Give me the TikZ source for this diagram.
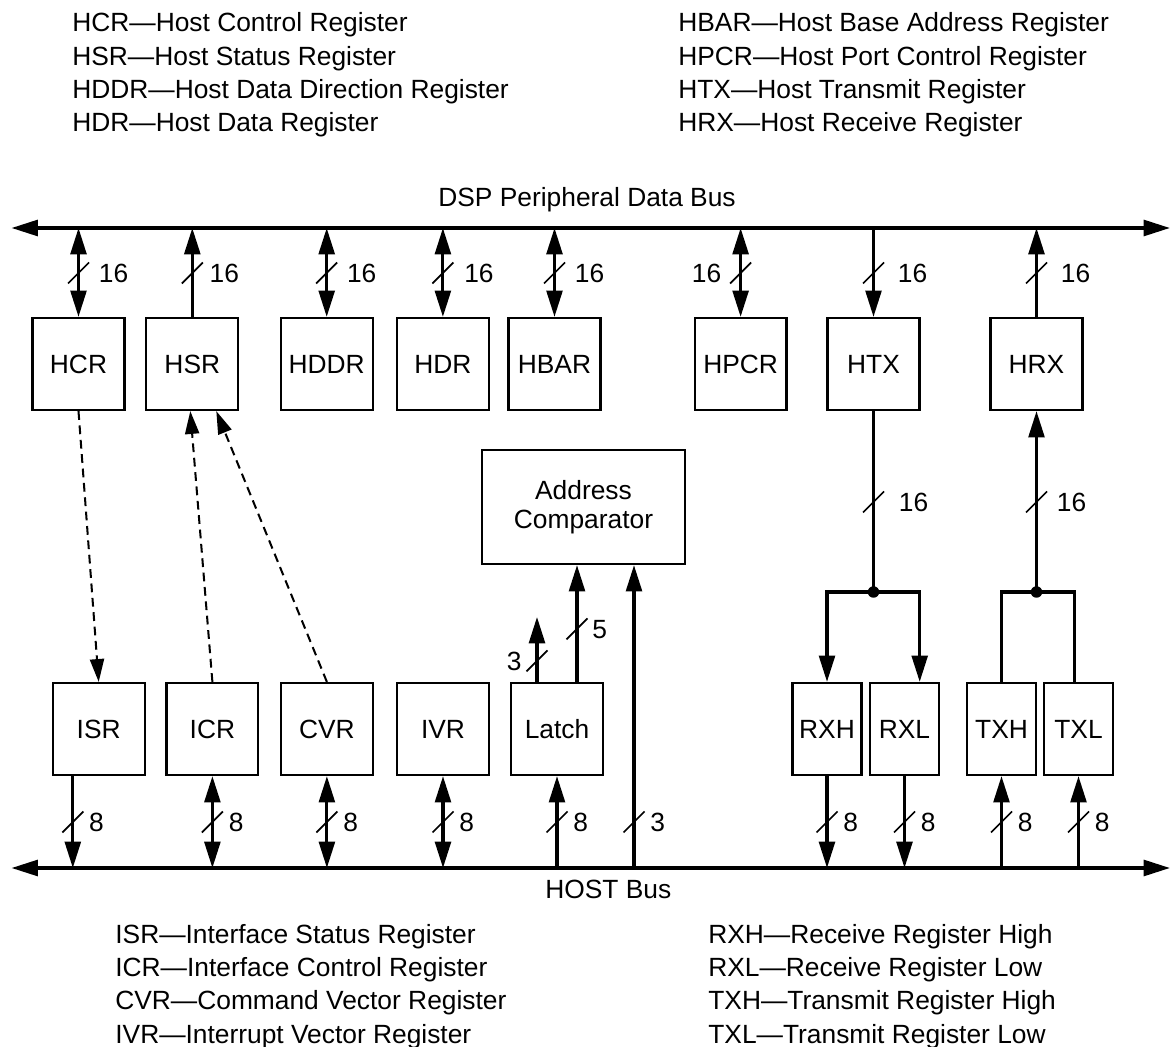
\documentclass[tikz,border=0pt]{standalone}
\usepackage{fontspec}
\setmainfont{Liberation Sans}
\usetikzlibrary{arrows.meta,calc}
\newcommand\myfs{\fontsize{15pt}{18pt}\selectfont}
\newcommand\slashat[1]{\draw[slashline] ($(#1)+(-10.5,10.5)$) -- ($(#1)+(10.5,-10.5)$);}
\begin{document}
\begin{tikzpicture}[x=0.02cm,y=-0.02cm,
  >={Triangle[length=15pt,width=9pt]},
  reg/.style={draw, line width=1.25pt, minimum width=1.84cm, minimum height=1.84cm, inner sep=0pt, font=\myfs},
  nreg/.style={reg, minimum width=1.38cm},
  bus/.style={line width=1.9pt, <->},
  wire/.style={line width=1.8pt},
  slashline/.style={line width=1pt},
  dashline/.style={line width=1.15pt, dash pattern=on 5pt off 3.2pt, -{Triangle[length=13pt,width=8pt]}},
  lbl/.style={inner sep=0pt, font=\myfs},
  dot/.style={fill=black}]
\useasboundingbox (0,0) rectangle (1171,1047);

% legends
\node[lbl,anchor=base west] (l1) at (72,32) {HCR—Host Control Register};
\node[lbl,anchor=base west] (l2) at (72,65.3) {HSR—Host Status Register};
\node[lbl,anchor=base west] (l3) at (72,98.6) {HDDR—Host Data Direction Register};
\node[lbl,anchor=base west] (l4) at (72,131.9) {HDR—Host Data Register};
\node[lbl,anchor=base west] (r1) at (678,32) {HBAR—Host Base Address Register};
\node[lbl,anchor=base west] (r2) at (678,65.3) {HPCR—Host Port Control Register};
\node[lbl,anchor=base west] (r3) at (678,98.6) {HTX—Host Transmit Register};
\node[lbl,anchor=base west] (r4) at (678,131.9) {HRX—Host Receive Register};

\node[lbl,anchor=base west] (b1) at (115,943.3) {ISR—Interface Status Register};
\node[lbl,anchor=base west] (b2) at (115,976.6) {ICR—Interface Control Register};
\node[lbl,anchor=base west] (b3) at (115,1009.9) {CVR—Command Vector Register};
\node[lbl,anchor=base west] (b4) at (115,1043.2) {IVR—Interrupt Vector Register};
\node[lbl,anchor=base west] (c1) at (708,943.3) {RXH—Receive Register High};
\node[lbl,anchor=base west] (c2) at (708,976.6) {RXL—Receive Register Low};
\node[lbl,anchor=base west] (c3) at (708,1009.9) {TXH—Transmit Register High};
\node[lbl,anchor=base west] (c4) at (708,1043.2) {TXL—Transmit Register Low};

% buses
\coordinate (tbl) at (11.5,228);
\coordinate (tbr) at (1170,228);
\coordinate (bbl) at (11.5,868);
\coordinate (bbr) at (1170,868);
\coordinate (sT) at (0,273);
\coordinate (sB) at (0,822);
\coordinate (sM) at (0,502);
\coordinate (jy) at (0,592);
\draw[bus] (tbl) -- (tbr);
\draw[bus] (bbl) -- (bbr);
\node[lbl,anchor=base west] (dspbus) at (438,207) {DSP Peripheral Data Bus};
\node[lbl,anchor=base west] (hostbus) at (545,898) {HOST Bus};

% top registers
\node[reg] (hcr)  at (78.5,364) {HCR};
\node[reg] (hsr)  at (192.3,364) {HSR};
\node[reg] (hddr) at (326.7,364) {HDDR};
\node[reg] (hdr)  at (442.9,364) {HDR};
\node[reg] (hbar) at (554.5,364) {HBAR};
\node[reg] (hpcr) at (740.6,364) {HPCR};
\node[reg] (htx)  at (873.5,364) {HTX};
\node[reg] (hrx)  at (1036.5,364) {HRX};

% bottom registers
\node[reg] (isr)   at (98.7,729) {ISR};
\node[reg] (icr)   at (212.4,729) {ICR};
\node[reg] (cvr)   at (326.9,729) {CVR};
\node[reg] (ivr)   at (443,729) {IVR};
\node[reg] (latch) at (557,729) {Latch};
\node[nreg] (rxh)  at (827,729) {RXH};
\node[nreg] (rxl)  at (904.5,729) {RXL};
\node[nreg] (txh)  at (1001.5,729) {TXH};
\node[nreg] (txl)  at (1078.5,729) {TXL};

\node[reg, minimum width=4.06cm, minimum height=2.28cm, align=center,
      font=\fontsize{15pt}{16.3pt}\selectfont] (ac) at (583.5,507) {Address\\Comparator};

% top connectors
\draw[wire,<->] (hcr.north |- tbl) -- (hcr.north);
\draw[wire,->] (hsr.north) -- (hsr.north |- tbl);
\draw[wire,<->] (hddr.north |- tbl) -- (hddr.north);
\draw[wire,<->] (hdr.north |- tbl) -- (hdr.north);
\draw[wire,<->] (hbar.north |- tbl) -- (hbar.north);
\draw[wire,<->] (hpcr.north |- tbl) -- (hpcr.north);
\draw[wire,->] (htx.north |- tbl) -- (htx.north);
\draw[wire,->] (hrx.north) -- (hrx.north |- tbl);

\foreach \n in {hcr,hsr,hddr,hdr,hbar,hpcr,htx,hrx} {\slashat{\n.north |- sT}}
\node[lbl,anchor=west] (t1) at ($(hcr.north |- sT)+(20,0)$) {16};
\node[lbl,anchor=west] (t2) at ($(hsr.north |- sT)+(17,0)$) {16};
\node[lbl,anchor=west] (t3) at ($(hddr.north |- sT)+(20,0)$) {16};
\node[lbl,anchor=west] (t4) at ($(hdr.north |- sT)+(21,0)$) {16};
\node[lbl,anchor=west] (t5) at ($(hbar.north |- sT)+(20,0)$) {16};
\node[lbl,anchor=east] (t6) at ($(hpcr.north |- sT)+(-19,0)$) {16};
\node[lbl,anchor=west] (t7) at ($(htx.north |- sT)+(24,0)$) {16};
\node[lbl,anchor=west] (t8) at ($(hrx.north |- sT)+(24,0)$) {16};

% dashed control links
\draw[dashline] (hcr.south) -- (isr.north);
\draw[dashline] (icr.north) -- ($(hsr.south)+(-2,0)$);
\draw[dashline] (cvr.north) -- ($(hsr.south)+(24,0)$);

% HTX -> RXH/RXL
\coordinate (j1) at (htx.south |- jy);
\draw[wire] (htx.south) -- (j1);
\draw[wire,->] (j1) -| (rxh.north);
\draw[wire,->] (j1) -| ($(rxl.north)+(15.2,0)$);
\fill[dot] (j1) circle (0.115cm);
\slashat{htx.south |- sM}
\node[lbl,anchor=west] (m1) at ($(htx.south |- sM)+(25,0)$) {16};

% TXH/TXL -> HRX
\coordinate (j2) at (hrx.south |- jy);
\draw[wire,->] (j2) -- (hrx.south);
\draw[wire] (j2) -| (txh.north);
\draw[wire] (j2) -| ($(txl.north)+(-4,0)$);
\fill[dot] (j2) circle (0.115cm);
\slashat{hrx.south |- sM}
\node[lbl,anchor=west] (m2) at ($(hrx.south |- sM)+(20,0)$) {16};

% Latch -> comparator
\coordinate (l3s) at ($(latch.north)+(-20,0)$);
\coordinate (l3e) at ($(l3s)+(0,-65)$);
\coordinate (l5s) at ($(latch.north)+(20,0)$);
\draw[wire,->] (l3s) -- (l3e);
\draw[wire,->] (l5s) -- (l5s |- ac.south);
\slashat{$(l3s)+(0,-21)$}
\slashat{$(l5s)+(0,-53)$}
\node[lbl,anchor=east] (n3) at ($(l3s)+(-15,-20)$) {3};
\node[lbl,anchor=west] (n5) at ($(l5s)+(15,-52)$) {5};

% bottom connectors
\coordinate (isrb) at ($(isr.south west)+(21.2,0)$);
\coordinate (acin) at ($(ac.south)+(50.5,0)$);
\draw[wire,->] (isrb) -- (isrb |- bbl);
\draw[wire,<->] (icr.south) -- (icr.south |- bbl);
\draw[wire,<->] (cvr.south) -- (cvr.south |- bbl);
\draw[wire,<->] (ivr.south) -- (ivr.south |- bbl);
\draw[wire,->] (latch.south |- bbl) -- (latch.south);
\draw[wire,->] (acin |- bbl) -- (acin);
\draw[wire,->] (rxh.south) -- (rxh.south |- bbl);
\draw[wire,->] (rxl.south) -- (rxl.south |- bbl);
\draw[wire,->] (txh.south |- bbl) -- (txh.south);
\draw[wire,->] (txl.south |- bbl) -- (txl.south);

\foreach \p in {isrb,icr.south,cvr.south,ivr.south,latch.south,acin,rxh.south,rxl.south,txh.south,txl.south} {\slashat{\p |- sB}}
\node[lbl,anchor=west] (e1) at ($(isrb |- sB)+(16,0)$) {8};
\node[lbl,anchor=west] (e2) at ($(icr.south |- sB)+(16,0)$) {8};
\node[lbl,anchor=west] (e3) at ($(cvr.south |- sB)+(16,0)$) {8};
\node[lbl,anchor=west] (e4) at ($(ivr.south |- sB)+(16,0)$) {8};
\node[lbl,anchor=west] (e5) at ($(latch.south |- sB)+(16,0)$) {8};
\node[lbl,anchor=west] (e6) at ($(acin |- sB)+(16,0)$) {3};
\node[lbl,anchor=west] (e7) at ($(rxh.south |- sB)+(16,0)$) {8};
\node[lbl,anchor=west] (e8) at ($(rxl.south |- sB)+(16,0)$) {8};
\node[lbl,anchor=west] (e9) at ($(txh.south |- sB)+(16,0)$) {8};
\node[lbl,anchor=west] (e10) at ($(txl.south |- sB)+(16,0)$) {8};
\end{tikzpicture}
\end{document}
